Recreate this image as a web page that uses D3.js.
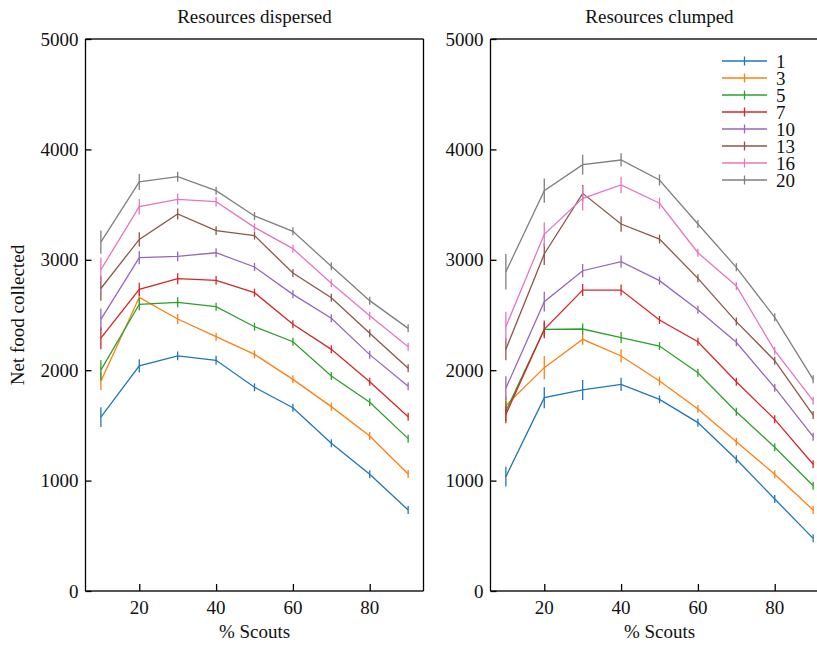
<!DOCTYPE html>
<html>
<head>
<meta charset="utf-8">
<script src="https://cdn.jsdelivr.net/npm/d3@7"></script>
<style>
  body { margin: 0; background: #fff; }
  text { font-family: "Liberation Serif", "DejaVu Serif", serif; fill: #111; }
</style>
</head>
<body>
<script>
// % scouts on the x axis
var scouts = [10, 20, 30, 40, 50, 60, 70, 80, 90];
var groups = ["1", "3", "5", "7", "10", "13", "16", "20"];
var colors = ["#1f77b4", "#ff7f0e", "#2ca02c", "#d62728", "#9467bd", "#8c564b", "#e377c2", "#7f7f7f"];

// Resources dispersed: mean net food per group size
var dispersed1  = [1575, 2040, 2130, 2090, 1845, 1660, 1338, 1057, 734];
var dispersed3  = [1900, 2660, 2464, 2304, 2143, 1917, 1670, 1404, 1060];
var dispersed5  = [2000, 2597, 2615, 2575, 2394, 2258, 1947, 1709, 1380];
var dispersed7  = [2290, 2733, 2829, 2814, 2702, 2416, 2189, 1896, 1579];
var dispersed10 = [2460, 3019, 3031, 3064, 2935, 2687, 2470, 2141, 1854];
var dispersed13 = [2740, 3185, 3415, 3264, 3219, 2880, 2657, 2334, 2017];
var dispersed16 = [2910, 3481, 3548, 3527, 3294, 3101, 2787, 2494, 2213];
var dispersed20 = [3160, 3705, 3753, 3626, 3397, 3258, 2941, 2630, 2379];

var dispersedErr1  = [90, 60, 40, 40, 25, 20, 15, 10, 8];
var dispersedErr3  = [80, 50, 45, 30, 20, 20, 15, 10, 8];
var dispersedErr5  = [90, 55, 45, 35, 30, 20, 15, 12, 8];
var dispersedErr7  = [100, 60, 50, 40, 30, 25, 15, 12, 10];
var dispersedErr10 = [100, 60, 45, 40, 30, 25, 20, 15, 12];
var dispersedErr13 = [110, 65, 50, 40, 35, 25, 20, 15, 12];
var dispersedErr16 = [110, 70, 50, 45, 35, 25, 20, 15, 12];
var dispersedErr20 = [105, 72, 45, 30, 30, 25, 20, 15, 12];

// Resources clumped
var clumped1  = [1036, 1751, 1821, 1872, 1736, 1525, 1193, 833, 477];
var clumped3  = [1680, 2023, 2280, 2129, 1902, 1649, 1352, 1057, 734];
var clumped5  = [1630, 2370, 2373, 2295, 2219, 1977, 1624, 1302, 954];
var clumped7  = [1600, 2370, 2726, 2726, 2455, 2258, 1896, 1555, 1148];
var clumped10 = [1836, 2621, 2901, 2983, 2811, 2548, 2253, 1842, 1398];
var clumped13 = [2190, 3053, 3602, 3324, 3188, 2832, 2440, 2086, 1594];
var clumped16 = [2394, 3231, 3557, 3678, 3512, 3064, 2763, 2177, 1724];
var clumped20 = [2892, 3626, 3862, 3904, 3723, 3324, 2932, 2479, 1917];

var clumpedErr1  = [90, 95, 90, 60, 30, 25, 20, 12, 8];
var clumpedErr3  = [80, 105, 50, 60, 40, 30, 20, 12, 8];
var clumpedErr5  = [90, 60, 50, 50, 30, 25, 20, 12, 8];
var clumpedErr7  = [80, 80, 55, 50, 35, 30, 20, 12, 10];
var clumpedErr10 = [110, 90, 60, 55, 35, 30, 20, 15, 10];
var clumpedErr13 = [100, 100, 75, 70, 40, 35, 25, 15, 12];
var clumpedErr16 = [135, 110, 110, 75, 50, 35, 30, 20, 12];
var clumpedErr20 = [160, 110, 90, 60, 50, 35, 25, 20, 12];

var yTicks = [0, 1000, 2000, 3000, 4000, 5000];
var xTicks = [20, 40, 60, 80];

var panels = [
    {
        title: "Resources dispersed",
        left: 85.5,
        series: [dispersed1, dispersed3, dispersed5, dispersed7, dispersed10, dispersed13, dispersed16, dispersed20],
        errors: [dispersedErr1, dispersedErr3, dispersedErr5, dispersedErr7, dispersedErr10, dispersedErr13, dispersedErr16, dispersedErr20],
        legend: false
    },
    {
        title: "Resources clumped",
        left: 490.5,
        series: [clumped1, clumped3, clumped5, clumped7, clumped10, clumped13, clumped16, clumped20],
        errors: [clumpedErr1, clumpedErr3, clumpedErr5, clumpedErr7, clumpedErr10, clumpedErr13, clumpedErr16, clumpedErr20],
        legend: true
    }
];

var width = 817,
    height = 646;
var panelWidth = 338,
    plotTop = 39,
    plotBottom = 591;

var svg = d3.select("body")
    .append("svg")
    .attr("width", width)
    .attr("height", height);

var y = d3.scaleLinear()
    .domain([0, 5000])
    .range([plotBottom, plotTop]);

panels.forEach(function(panel) {
    var x = d3.scaleLinear()
        .domain([6, 94])
        .range([panel.left, panel.left + panelWidth]);

    var g = svg.append("g");

    // frame
    g.append("line")
        .attr("x1", x.range()[0]).attr("x2", x.range()[1])
        .attr("y1", plotTop).attr("y2", plotTop)
        .attr("stroke", "#555").attr("stroke-width", 2);
    g.append("line")
        .attr("x1", x.range()[0]).attr("x2", x.range()[1])
        .attr("y1", plotBottom).attr("y2", plotBottom)
        .attr("stroke", "#555").attr("stroke-width", 2);
    g.append("line")
        .attr("x1", x.range()[0]).attr("x2", x.range()[0])
        .attr("y1", plotTop).attr("y2", plotBottom)
        .attr("stroke", "#000").attr("stroke-width", 1.3);
    g.append("line")
        .attr("x1", x.range()[1]).attr("x2", x.range()[1])
        .attr("y1", plotTop).attr("y2", plotBottom)
        .attr("stroke", "#000").attr("stroke-width", 1.3);

    // y axis, ticks pointing in
    var yAxis = d3.axisRight(y)
        .tickValues(yTicks)
        .tickSize(6)
        .tickFormat("");
    var ya = g.append("g")
        .attr("transform", "translate(" + x.range()[0] + ",0)")
        .call(yAxis);
    ya.select(".domain").remove();
    ya.selectAll(".tick line").attr("stroke", "#000").attr("stroke-width", 1.3);

    g.selectAll(".ylab")
        .data(yTicks)
        .enter()
        .append("text")
        .attr("x", x.range()[0] - 7)
        .attr("y", function(d) { return y(d); })
        .attr("dy", "0.35em")
        .attr("text-anchor", "end")
        .style("font-size", "19px")
        .text(function(d) { return d; });

    // x axis, ticks pointing in
    var xAxis = d3.axisTop(x)
        .tickValues(xTicks)
        .tickSize(7)
        .tickFormat("");
    var xa = g.append("g")
        .attr("transform", "translate(0," + plotBottom + ")")
        .call(xAxis);
    xa.select(".domain").remove();
    xa.selectAll(".tick line").attr("stroke", "#000").attr("stroke-width", 1.3);

    g.selectAll(".xlab")
        .data(xTicks)
        .enter()
        .append("text")
        .attr("x", function(d) { return x(d); })
        .attr("y", plotBottom + 23)
        .attr("text-anchor", "middle")
        .style("font-size", "19px")
        .text(function(d) { return d; });

    g.append("text")
        .attr("x", panel.left + panelWidth / 2)
        .attr("y", 638)
        .attr("text-anchor", "middle")
        .style("font-size", "19px")
        .text("% Scouts");

    g.append("text")
        .attr("x", panel.left + panelWidth / 2)
        .attr("y", 23)
        .attr("text-anchor", "middle")
        .style("font-size", "19px")
        .text(panel.title);

    var line = d3.line()
        .x(function(d) { return x(d.x); })
        .y(function(d) { return y(d.v); });

    panel.series.forEach(function(values, i) {
        var pts = values.map(function(v, j) {
            return { x: scouts[j], v: v, e: panel.errors[i][j] };
        });
        var sg = g.append("g").attr("stroke", colors[i]).attr("fill", "none");

        sg.append("path")
            .attr("d", line(pts))
            .attr("stroke-width", 1.3);

        sg.selectAll(".err")
            .data(pts)
            .enter()
            .append("line")
            .attr("x1", function(d) { return x(d.x); })
            .attr("x2", function(d) { return x(d.x); })
            .attr("y1", function(d) { return Math.min(y(d.v + d.e), y(d.v) - 4); })
            .attr("y2", function(d) { return Math.max(y(d.v - d.e), y(d.v) + 4); })
            .attr("stroke-width", 1.3);
    });

    if (panel.legend) {
        var lg = g.append("g").attr("transform", "translate(722,61)");
        groups.forEach(function(name, i) {
            var row = lg.append("g").attr("transform", "translate(0," + (i * 17) + ")");
            row.append("line")
                .attr("x1", 0).attr("x2", 45)
                .attr("stroke", colors[i]).attr("stroke-width", 1.3);
            row.append("line")
                .attr("x1", 22.5).attr("x2", 22.5)
                .attr("y1", -4.5).attr("y2", 4.5)
                .attr("stroke", colors[i]).attr("stroke-width", 1.3);
            row.append("text")
                .attr("x", 54)
                .attr("dy", "0.35em")
                .style("font-size", "19px")
                .text(name);
        });
    }
});

svg.append("text")
    .attr("transform", "translate(24,315) rotate(-90)")
    .attr("text-anchor", "middle")
    .style("font-size", "19px")
    .text("Net food collected");
</script>
</body>
</html>
